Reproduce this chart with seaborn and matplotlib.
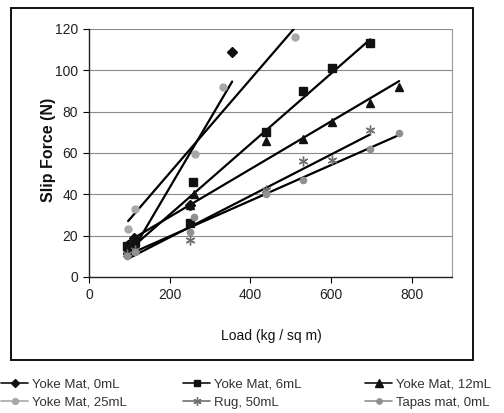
import numpy as np
import pandas as pd
import seaborn as sns
import matplotlib
matplotlib.use("Agg")
import matplotlib.pyplot as plt
from matplotlib.lines import Line2D
from matplotlib.patches import Rectangle

sns.set_style("white")
plt.rcParams['font.family'] = ['Liberation Sans', 'DejaVu Sans']

# ---- data ----
series_names = ["Yoke Mat, 0mL", "Yoke Mat, 6mL", "Yoke Mat, 12mL",
                "Yoke Mat, 25mL", "Rug, 50mL", "Tapas mat, 0mL"]

load_0mL = [98, 112, 250, 355]
force_0mL = [15, 19, 35, 109]

load_6mL = [95, 113, 250, 258, 439, 531, 603, 697]
force_6mL = [15, 17, 26, 46, 70, 90, 101, 113]

load_12mL = [95, 115, 250, 260, 439, 531, 603, 697, 769]
force_12mL = [13, 16, 35, 40, 66, 67, 75, 84, 92]

load_25mL = [97, 114, 263, 332, 511]
force_25mL = [23, 33, 59.5, 92, 116]

load_rug = [95, 115, 250, 439, 531, 603, 697]
force_rug = [11, 13, 18, 42, 56, 56.6, 71]

load_tapas = [95, 115, 250, 260, 440, 531, 697, 769]
force_tapas = [10, 12, 22, 29, 40, 47, 62, 69.6]

x_ticks = [0, 200, 400, 600, 800]
y_ticks = [0, 20, 40, 60, 80, 100, 120]

loads = [load_0mL, load_6mL, load_12mL, load_25mL, load_rug, load_tapas]
forces = [force_0mL, force_6mL, force_12mL, force_25mL, force_rug, force_tapas]

df = pd.concat([pd.DataFrame({"Load": l, "Force": f, "Series": n})
                for l, f, n in zip(loads, forces, series_names)], ignore_index=True)

styles = {
    "Yoke Mat, 0mL": dict(marker="D", color="#111111", ms=5),
    "Yoke Mat, 6mL": dict(marker="s", color="#111111", ms=5.5),
    "Yoke Mat, 12mL": dict(marker="^", color="#111111", ms=6),
    "Yoke Mat, 25mL": dict(marker="o", color="#a8a8a8", ms=5),
    "Rug, 50mL": dict(marker=(6, 2, 0), color="#707070", ms=7),
    "Tapas mat, 0mL": dict(marker="o", color="#909090", ms=4.5),
}

W, H = 504, 413
fig = plt.figure(figsize=(W / 100, H / 100), dpi=100)
ax = fig.add_axes([89 / W, 1 - 277 / H, (452 - 89) / W, (277 - 29) / H])

# gridlines
for yv in y_ticks[1:]:
    ax.axhline(yv, color="#8a8a8a", lw=0.8, zorder=0)

for name in series_names:
    sub = df[df["Series"] == name]
    st = styles[name]
    sns.regplot(data=sub, x="Load", y="Force", ax=ax, scatter=False, ci=None,
                truncate=True, line_kws=dict(color="black", lw=1.6, zorder=3))
    ax.plot(sub["Load"], sub["Force"], linestyle="none", marker=st["marker"],
            color=st["color"], ms=st["ms"], mec=st["color"], zorder=4)

ax.set_xlim(0, 900)
ax.set_ylim(0, 120)
ax.set_xticks(x_ticks)
ax.set_yticks(y_ticks)
ax.tick_params(axis="both", labelsize=10, length=4, width=0.8, color="black",
               direction="out", left=True, bottom=True, pad=4, labelcolor="#222222")
ax.set_xlabel("")
ax.set_ylabel("")
for s in ["left", "bottom"]:
    ax.spines[s].set_color("#222222")
    ax.spines[s].set_linewidth(1.0)
ax.spines["right"].set_color("#999999")
ax.spines["right"].set_linewidth(0.8)
ax.spines["top"].set_visible(False)

fig.text(271 / W, 1 - 336 / H, "Load (kg / sq m)", ha="center", va="center",
         fontsize=10, color="#111111")
fig.text(48 / W, 1 - 150 / H, "Slip Force (N)", ha="center", va="center",
         rotation=90, fontsize=11.5, fontweight="bold", color="#111111")

# outer chart box
fig.add_artist(Rectangle((11 / W, 1 - 360 / H), (473 - 11) / W, (360 - 8) / H,
                         transform=fig.transFigure, fill=False, ec="#111111", lw=1.4))

# legend: three columns, two rows
def handle(name):
    st = styles[name]
    return Line2D([], [], color=st["color"], lw=1.2, marker=st["marker"],
                  ms=st["ms"] * 0.85, mec=st["color"], mfc=st["color"])

cols = [(["Yoke Mat, 0mL", "Yoke Mat, 25mL"], 0 / W),
        (["Yoke Mat, 6mL", "Rug, 50mL"], 182 / W),
        (["Yoke Mat, 12mL", "Tapas mat, 0mL"], 364 / W)]
for names, x0 in cols:
    leg = fig.legend([handle(n) for n in names], names, loc="upper left",
                     bbox_to_anchor=(x0, 1 - 377 / H), frameon=False, fontsize=9.5,
                     handlelength=2.0, handletextpad=0.3, labelspacing=0.45,
                     borderaxespad=0, borderpad=0.1)
    for t in leg.get_texts():
        t.set_color("#333333")

fig.savefig("out.png", dpi=100)
